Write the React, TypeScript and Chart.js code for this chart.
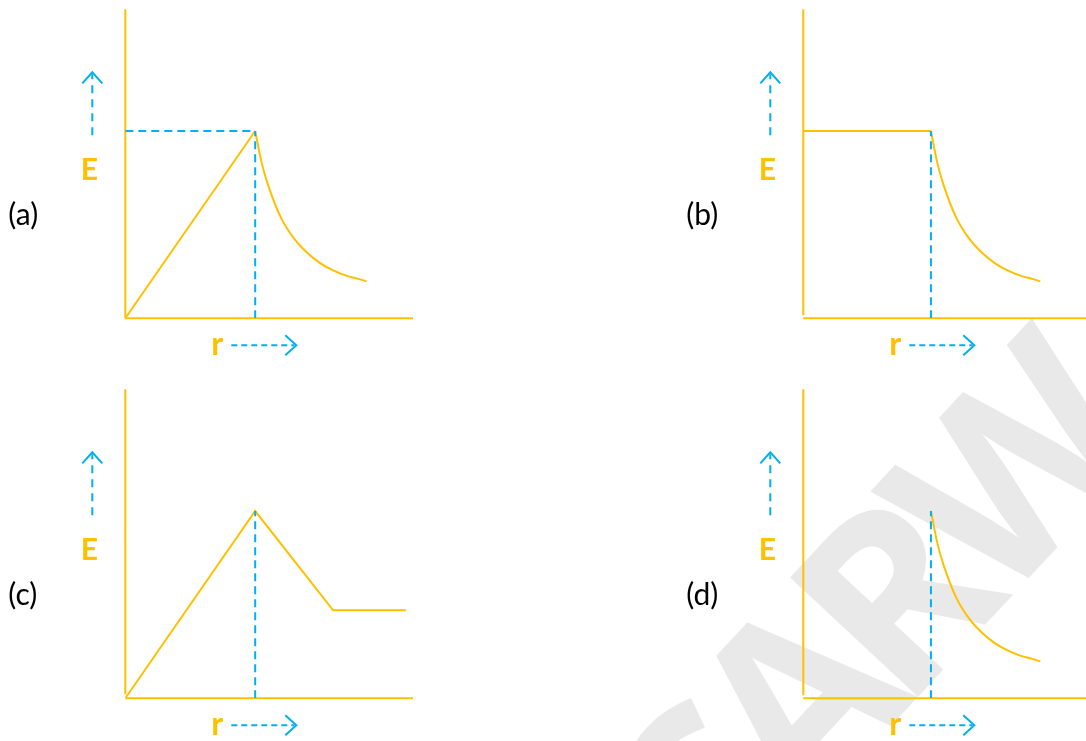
import { useEffect, useRef } from "react";
import { Chart, registerables } from "chart.js";

Chart.register(...registerables);

const ORANGE = "#FFC000";
const BLUE = "#00B0F0";
const W = 1086;
const H = 741;

// Axis extents, r in units of R and E in units of the peak field
const R_MAX = 2.215;
const E_MAX = 1.65;

// Field outside the sphere, falling off from the peak
const decayR = [1, 1.05, 1.1, 1.2, 1.3, 1.4, 1.5, 1.6, 1.7, 1.8, 1.857];
const decayE = [1, 0.83, 0.71, 0.535, 0.425, 0.35, 0.295, 0.256, 0.228, 0.209, 0.197];

// (a) linear rise inside
const riseR = [0, 1];
const riseE = [0, 1];

// (b) constant inside
const flatR = [0, 1];
const flatE = [1, 1];

// (c) rise, linear fall, then a plateau
const peakR = [0, 1, 1.6, 2.16];
const peakE = [0, 1, 0.47, 0.47];

// guide lines to the peak
const guideVR = [1, 1];
const guideVE = [0, 1];
const guideHR = [0, 1];
const guideHE = [1, 1];

const panelLabels = ["(a)", "(b)", "(c)", "(d)"];
const yTitle = "E";
const xTitle = "r";
const watermarkText = "CARW";

const pts = (xs: number[], ys: number[]) => xs.map((x, i) => ({ x, y: ys[i] }));

const solid = (xs: number[], ys: number[], curved = false) => ({
  data: pts(xs, ys),
  borderColor: ORANGE,
  borderWidth: 2,
  pointRadius: 0,
  fill: false,
  tension: curved ? 0.4 : 0,
  cubicInterpolationMode: curved ? "monotone" : "default",
  order: 1,
});

const dashed = (xs: number[], ys: number[]) => ({
  data: pts(xs, ys),
  borderColor: BLUE,
  borderWidth: 2,
  borderDash: [8, 5],
  pointRadius: 0,
  fill: false,
  tension: 0,
  order: 0,
});

type Panel = {
  label: string;
  dx: number;
  dy: number;
  gap: number;
  datasets: any[];
  watermark?: boolean;
};

const panels: Panel[] = [
  {
    label: panelLabels[0],
    dx: 0,
    dy: 0,
    gap: 0,
    watermark: true,
    datasets: [
      solid(riseR, riseE),
      solid(decayR, decayE, true),
      dashed(guideHR, guideHE),
      dashed(guideVR, guideVE),
    ],
  },
  {
    label: panelLabels[1],
    dx: 678,
    dy: 0,
    gap: 3,
    datasets: [solid(flatR, flatE), solid(decayR, decayE, true), dashed(guideVR, guideVE)],
  },
  {
    label: panelLabels[2],
    dx: 0,
    dy: 380,
    gap: 4,
    datasets: [solid(peakR, peakE), dashed(guideVR, guideVE)],
  },
  {
    label: panelLabels[3],
    dx: 678,
    dy: 380,
    gap: 3,
    datasets: [solid(decayR, decayE, true), dashed(guideVR, guideVE)],
  },
];

function drawWatermark(ctx: CanvasRenderingContext2D) {
  ctx.save();
  ctx.fillStyle = "#e9e9e9";
  ctx.font = "bold 245px 'Open Sans'";
  (ctx as any).letterSpacing = "-22px";
  ctx.translate(700, 800);
  ctx.rotate((-47 * Math.PI) / 180);
  ctx.textBaseline = "alphabetic";
  ctx.textAlign = "left";
  ctx.fillText(watermarkText, -79, 89);
  ctx.restore();
}

const decorPlugin = {
  id: "panelDecor",
  beforeDraw(chart: any, _args: any, opts: any) {
    if (opts.watermark) drawWatermark(chart.ctx);
  },
  beforeDatasetsDraw(chart: any, _args: any, opts: any) {
    const { ctx, scales } = chart;
    const xs = scales.x;
    const ys = scales.y;
    const x0 = xs.getPixelForValue(0);
    const x1 = xs.getPixelForValue(R_MAX);
    const y0 = ys.getPixelForValue(0);
    const yTop = ys.getPixelForValue(E_MAX);
    ctx.save();
    ctx.strokeStyle = ORANGE;
    ctx.lineWidth = 2;
    ctx.beginPath();
    ctx.moveTo(x0, yTop);
    ctx.lineTo(x0, y0 - opts.gap);
    ctx.moveTo(x0, y0);
    ctx.lineTo(x1, y0);
    ctx.stroke();
    ctx.restore();
  },
  afterDraw(chart: any, _args: any, opts: any) {
    const { ctx, chartArea } = chart;
    const ox = chartArea.left;
    const oy = chartArea.bottom;
    ctx.save();
    // panel label
    ctx.fillStyle = "#000";
    ctx.font = "30px Lato";
    ctx.textAlign = "left";
    ctx.textBaseline = "middle";
    ctx.fillText(opts.label, ox - 117, oy - 103);

    // axis titles
    ctx.fillStyle = ORANGE;
    ctx.textAlign = "center";
    ctx.textBaseline = "alphabetic";
    ctx.font = "bold 30px Lato";
    ctx.fillText(yTitle, ox - 36, oy - 138);
    ctx.font = "bold 32px Lato";
    ctx.fillText(xTitle, ox + 92, oy + 37);

    // dashed direction arrows
    ctx.strokeStyle = BLUE;
    ctx.lineWidth = 2;
    const ax = ox - 33;
    ctx.setLineDash([8, 6]);
    ctx.beginPath();
    ctx.moveTo(ax, oy - 183);
    ctx.lineTo(ax, oy - 244);
    ctx.stroke();
    const ry = oy + 27;
    ctx.setLineDash([6, 4]);
    ctx.beginPath();
    ctx.moveTo(ox + 106, ry);
    ctx.lineTo(ox + 169, ry);
    ctx.stroke();
    ctx.setLineDash([]);
    ctx.beginPath();
    ctx.moveTo(ax - 10, oy - 235);
    ctx.lineTo(ax, oy - 246);
    ctx.lineTo(ax + 10, oy - 235);
    ctx.moveTo(ox + 160, ry - 10);
    ctx.lineTo(ox + 171, ry);
    ctx.lineTo(ox + 160, ry + 10);
    ctx.stroke();
    ctx.restore();
  },
};

function PanelChart({ panel }: { panel: Panel }) {
  const ref = useRef<HTMLCanvasElement | null>(null);
  useEffect(() => {
    if (!ref.current) return;
    const left = 125.3 + panel.dx;
    const top = 9.3 + panel.dy;
    const right = 413 + panel.dx;
    const bottom = 318.3 + panel.dy;
    const chart = new Chart(ref.current, {
      type: "line",
      data: { datasets: panel.datasets },
      options: {
        animation: false,
        responsive: false,
        devicePixelRatio: 1,
        layout: {
          padding: { left, top, right: W - right, bottom: H - bottom },
        },
        scales: {
          x: { type: "linear", min: 0, max: R_MAX, display: false },
          y: { type: "linear", min: 0, max: E_MAX, display: false },
        },
        plugins: {
          legend: { display: false },
          tooltip: { enabled: false },
          panelDecor: { label: panel.label, gap: panel.gap, watermark: !!panel.watermark },
        } as any,
      },
      plugins: [decorPlugin],
    } as any);
    return () => chart.destroy();
  }, [panel]);
  return (
    <canvas
      ref={ref}
      width={W}
      height={H}
      style={{ position: "absolute", left: 0, top: 0, width: W, height: H }}
    />
  );
}

export default function App() {
  return (
    <div
      style={{
        position: "fixed",
        left: 0,
        top: 0,
        width: W,
        height: H,
        overflow: "hidden",
        background: "#fff",
      }}
    >
      {panels.map((p) => (
        <PanelChart key={p.label} panel={p} />
      ))}
    </div>
  );
}
